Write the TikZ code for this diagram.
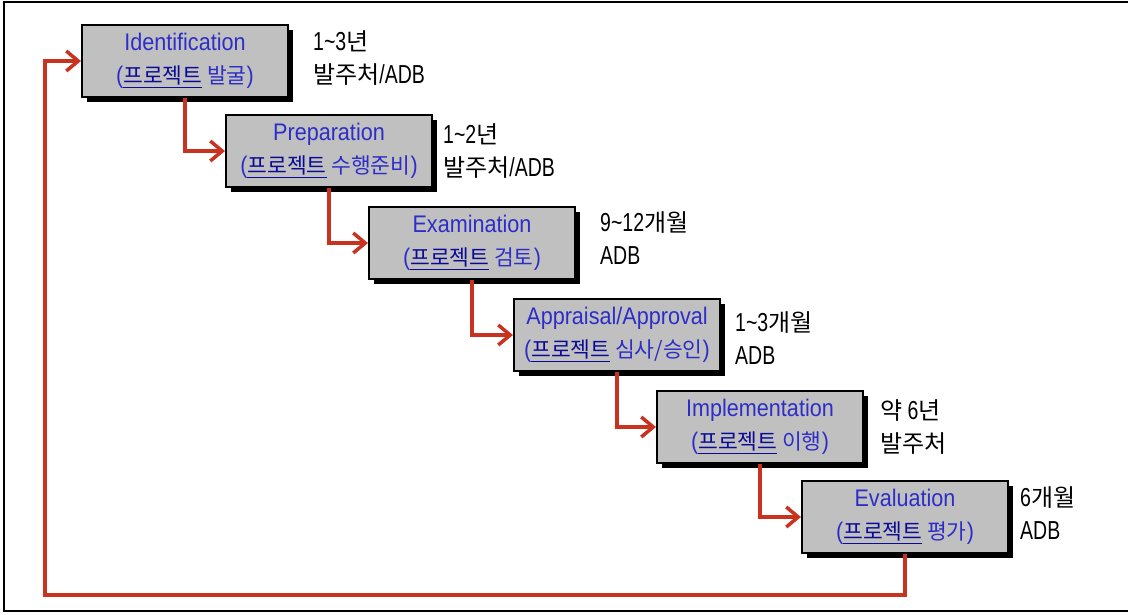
\documentclass[tikz,border=0pt]{standalone}
\usepackage{fontspec}
\setmainfont{Liberation Sans}
\newfontfamily\krfont{Noto Sans CJK KR}
\newfontfamily\narrowfont{Liberation Sans}[FakeStretch=0.75]
\newfontfamily\boxfont{Liberation Sans}[FakeStretch=0.9]
\usetikzlibrary{arrows.meta,shadows}
\definecolor{boxgray}{RGB}{192,192,192}
\definecolor{txtblue}{RGB}{45,45,200}
\definecolor{ulblue}{RGB}{10,10,150}
\definecolor{arrred}{RGB}{200,50,30}
\newcommand{\K}[1]{{\krfont\fontsize{21.5}{33}\selectfont #1}}
\newcommand{\U}[1]{\textcolor{ulblue}{\underline{#1}}}
\newcommand{\SK}[1]{{\krfont\fontsize{24}{33}\selectfont #1}}
\tikzset{
  stagebox/.style={draw=black, line width=2pt, fill=boxgray,
    minimum width=206pt, minimum height=72pt, inner sep=0pt,
    align=center, text=txtblue, font=\boxfont\fontsize{24}{33}\selectfont,
    drop shadow={shadow xshift=5pt, shadow yshift=-5pt, fill=black, opacity=1}},
  sidelabel/.style={anchor=west, inner sep=0pt, align=left,
    font=\narrowfont\fontsize{26}{33}\selectfont, text=black},
  arr/.style={draw=arrred, line width=3.5pt,
    -{Straight Barb[length=12pt,width=20pt,line width=3.5pt]}},
  frameline/.style={draw=black, line width=2pt}
}
\begin{document}
\begin{tikzpicture}[x=1pt,y=-1pt]
\useasboundingbox (0,0) rectangle (1128,614);
\draw[frameline] (1128,2) -- (4,2) -- (4,611) -- (1128,611);

\node[stagebox] (b1) at (185,61) {Identification\\(\K{\U{프로젝트} 발굴})};
\node[stagebox] (b2) at (329,151) {Preparation\\(\K{\U{프로젝트} 수행준비})};
\node[stagebox] (b3) at (472,243) {Examination\\(\K{\U{프로젝트} 검토})};
\node[stagebox] (b4) at (617,335) {Appraisal/Approval\\(\K{\U{프로젝트} 심사/승인})};
\node[stagebox] (b5) at (760,427) {Implementation\\(\K{\U{프로젝트} 이행})};
\node[stagebox] (b6) at (905,517) {Evaluation\\(\K{\U{프로젝트} 평가})};

\node[sidelabel] (l1) at (313,58) {1\textasciitilde3\SK{년}\\\SK{발주처}/ADB};
\node[sidelabel] (l2) at (443,151) {1\textasciitilde2\SK{년}\\\SK{발주처}/ADB};
\node[sidelabel] (l3) at (600,238) {9\textasciitilde12\SK{개월}\\ADB};
\node[sidelabel] (l4) at (735,338) {1\textasciitilde3\SK{개월}\\ADB};
\node[sidelabel] (l5) at (880,427) {\SK{약} 6\SK{년}\\\SK{발주처}};
\node[sidelabel] (l6) at (1020,513) {6\SK{개월}\\ADB};

\draw[arr] (b1.south) |- (b2.west);
\draw[arr] (b2.south) |- (b3.west);
\draw[arr] (b3.south) |- (b4.west);
\draw[arr] (b4.south) |- (b5.west);
\draw[arr] (b5.south) |- (b6.west);
\coordinate (lb) at (45,595);
\draw[arr] (b6.south) |- (lb) |- (b1.west);
\end{tikzpicture}
\end{document}
